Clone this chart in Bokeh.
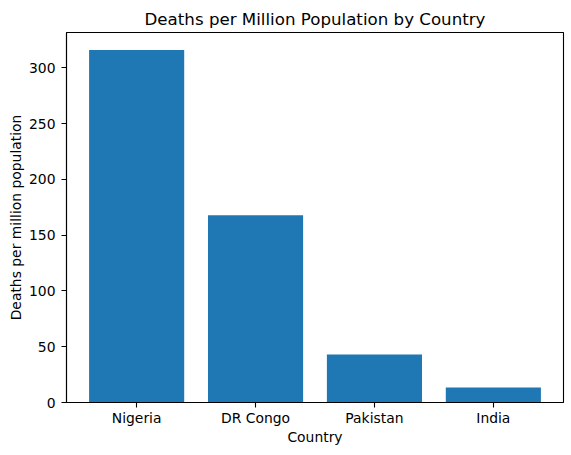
from bokeh.plotting import figure
from bokeh.models import FactorRange, Range1d, FixedTicker, ColumnDataSource
from bokeh.embed import file_html
from bokeh.resources import INLINE

countries = ["Nigeria", "DR Congo", "Pakistan", "India"]
deaths_per_million = [316, 168, 43, 13.5]
y_ticks = [0, 50, 100, 150, 200, 250, 300]

FONT = "DejaVu Sans"
BAR_COLOR = "#1f77b4"

source = ColumnDataSource(data=dict(country=countries, value=deaths_per_million))

p = figure(
    frame_width=497, frame_height=370,
    x_range=FactorRange(factors=countries, range_padding=0.045),
    y_range=Range1d(0, max(deaths_per_million) * 1.05),
    output_backend="svg", toolbar_location=None,
    min_border_left=66, min_border_right=7, min_border_top=32, min_border_bottom=52,
)

p.vbar(x="country", top="value", width=0.8, source=source,
       fill_color=BAR_COLOR, line_color=None)

p.title.text = "Deaths per Million Population by Country"
p.title.align = "center"
p.title.text_font = FONT
p.title.text_font_size = "16.67px"
p.title.text_font_style = "normal"
p.title.text_color = "black"
p.title.standoff = 7

p.xgrid.visible = False
p.ygrid.visible = False
p.outline_line_color = "black"
p.outline_line_width = 1.1
p.outline_line_alpha = 1.0

p.yaxis.ticker = FixedTicker(ticks=y_ticks)
p.xaxis.axis_label = "Country"
p.yaxis.axis_label = "Deaths per million population"

for ax in (p.xaxis[0], p.yaxis[0]):
    ax.axis_line_color = "black"
    ax.axis_line_width = 1.1
    ax.major_tick_line_color = "black"
    ax.major_tick_line_width = 1.1
    ax.major_tick_out = 5
    ax.major_tick_in = 0
    ax.minor_tick_line_color = None
    ax.major_label_text_font = FONT
    ax.major_label_text_font_size = "13.9px"
    ax.major_label_text_color = "black"
    ax.axis_label_text_font = FONT
    ax.axis_label_text_font_size = "13.9px"
    ax.axis_label_text_font_style = "normal"
    ax.axis_label_text_color = "black"

p.xaxis.major_label_standoff = 2
p.xaxis.axis_label_standoff = 0
p.yaxis.major_label_standoff = 6
p.yaxis.axis_label_standoff = 2
p.xaxis.group_text_font_size = "0px"

open("out.html", "w").write(file_html(p, INLINE))
